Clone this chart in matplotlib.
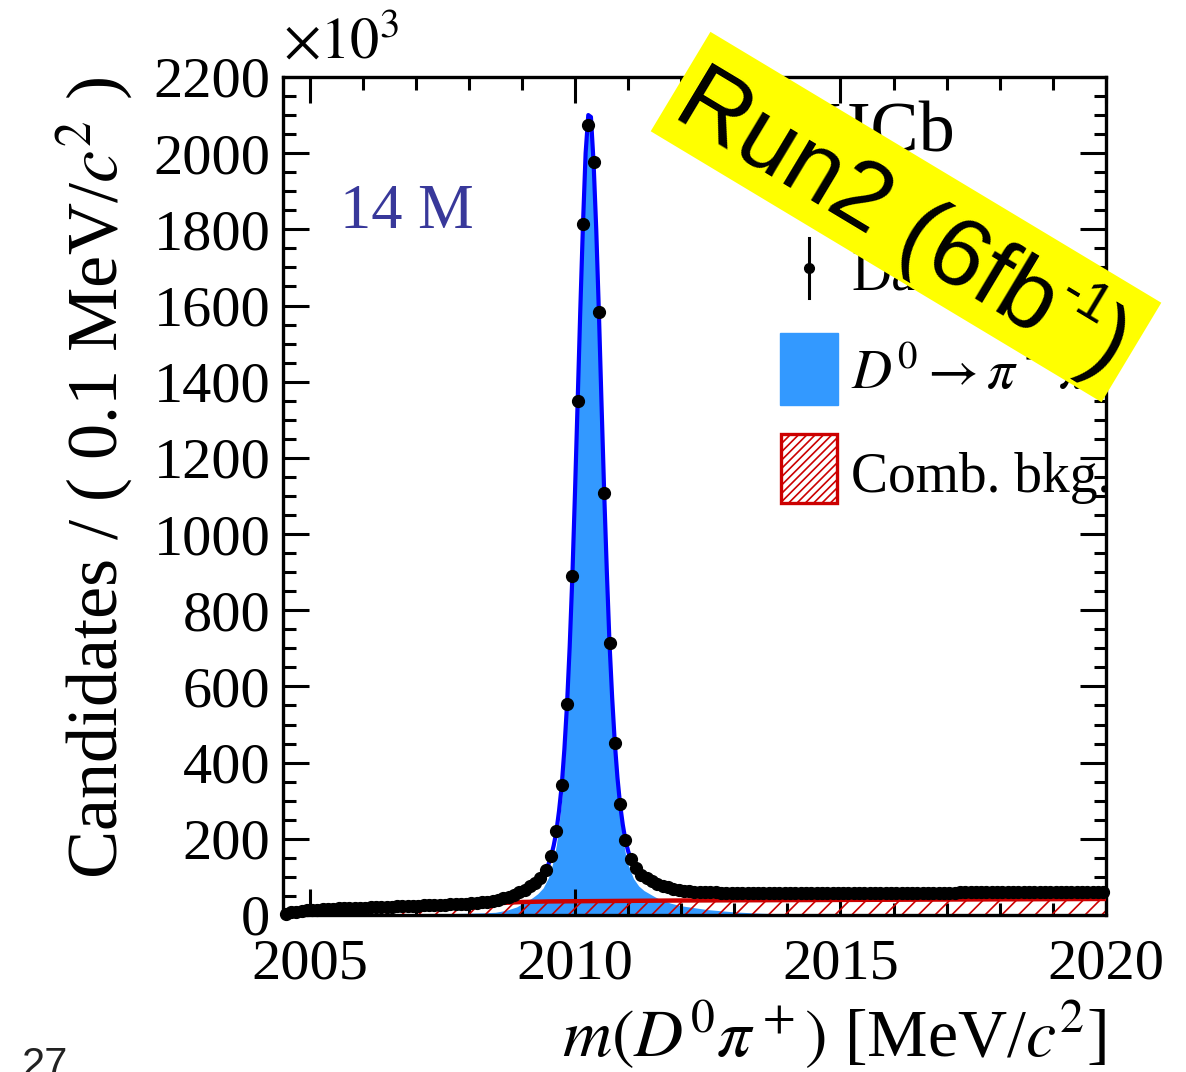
import numpy as np
import matplotlib.pyplot as plt
from matplotlib.patches import Rectangle, Polygon
from matplotlib.lines import Line2D

plt.rcParams['font.family'] = ['Liberation Serif', 'DejaVu Serif']
plt.rcParams['mathtext.fontset'] = 'stix'
plt.rcParams['hatch.linewidth'] = 1.2

# binning: 0.1 MeV bins from threshold region to 2020
bin_lo, bin_hi, bin_w = 2004.5, 2020.0, 0.1

# candidates per bin, in units of 10^3
counts = [
    3, 7, 9, 11, 12, 13, 14, 15, 15.5, 16,
    17, 17.5, 18, 18.5, 19, 19.5, 20, 20.5, 21, 21.5,
    22, 22.5, 23, 23.5, 24, 24.5, 25, 25.5, 26, 26.5,
    27, 27.5, 28, 29, 30, 31, 32, 33.5, 35, 37,
    40, 44, 48, 53, 59, 66, 75, 85, 97, 118,
    155, 221, 341, 554, 890, 1349, 1814, 2074, 1977, 1583,
    1108, 714, 452, 290, 197, 147, 123, 106, 97, 89,
    82, 77, 73, 69, 66, 64, 62.5, 61.5, 60.5, 60,
    59.5, 59, 58.5, 58.5, 58, 58, 58, 57.5, 57.5, 57.5,
    57.5, 57, 57, 57, 57, 57, 57, 57, 57, 57,
    57, 57, 57, 57, 57, 57, 57.5, 57.5, 57.5, 57.5,
    57.5, 57.5, 57.5, 58, 58, 58, 58, 58, 58, 58,
    58, 58.5, 58.5, 58.5, 58.5, 58.5, 58.5, 59, 59, 59,
    59, 59, 59, 59.5, 59.5, 59.5, 59.5, 59.5, 60, 60,
    60, 60, 60, 60, 60.5, 60.5, 60.5, 60.5, 60.5, 61,
    61, 61, 61, 61, 61,
]

# total fit
fit_m = [2004.5, 2004.6, 2004.8, 2005.0, 2005.5, 2006.0, 2006.5, 2007.0, 2007.5,
         2008.0, 2008.25, 2008.5, 2008.7, 2008.9, 2009.0, 2009.1, 2009.2, 2009.3,
         2009.4, 2009.45, 2009.5, 2009.55, 2009.6, 2009.65, 2009.7, 2009.75, 2009.8,
         2009.85, 2009.9, 2009.95, 2010.0, 2010.05, 2010.1, 2010.15, 2010.2, 2010.25,
         2010.3, 2010.35, 2010.4, 2010.45, 2010.5, 2010.55, 2010.6, 2010.65, 2010.7,
         2010.75, 2010.8, 2010.85, 2010.9, 2010.95, 2011.0, 2011.05, 2011.1, 2011.15,
         2011.2, 2011.3, 2011.4, 2011.5, 2011.6, 2011.8, 2012.0, 2012.5, 2013.0,
         2014.0, 2015.0, 2016.0, 2017.0, 2018.0, 2019.0, 2020.0]
fit_total = [0, 5, 10, 12.5, 16.5, 19.5, 22, 24.5, 27,
             30.5, 33.5, 38, 45, 55, 63, 71, 80, 91,
             106, 117, 133, 154, 183, 220, 274, 340, 435,
             553, 705, 888, 1110, 1348, 1590, 1812, 2000, 2100,
             2095, 1975, 1800, 1582, 1340, 1107, 900, 713, 570,
             451, 360, 289, 237, 196, 168, 146, 132, 122,
             113, 101, 93, 85, 79, 71, 65, 60, 58.5,
             57, 57.2, 58, 58.7, 59.5, 60.3, 61]

# D0 -> pi- pi+ signal component
sig_m = [2006.5, 2007.0, 2007.5, 2008.0, 2008.25, 2008.5, 2008.7, 2008.9, 2009.0,
         2009.1, 2009.2, 2009.3, 2009.4, 2009.5, 2009.55, 2009.6, 2009.65, 2009.7,
         2009.75, 2009.8, 2009.85, 2009.9, 2009.95, 2010.0, 2010.05, 2010.1, 2010.15,
         2010.2, 2010.25, 2010.3, 2010.35, 2010.4, 2010.45, 2010.5, 2010.55, 2010.6,
         2010.65, 2010.7, 2010.75, 2010.8, 2010.85, 2010.9, 2010.95, 2011.0, 2011.1,
         2011.2, 2011.3, 2011.4, 2011.5, 2011.6, 2011.8, 2012.0, 2012.5, 2013.0,
         2013.5, 2014.0, 2015.0, 2016.0]
sig_yield = [0, 2, 3, 4.5, 5.5, 7, 12, 21, 29,
             36.5, 45.5, 56, 71, 98, 119, 148, 185, 239,
             305, 400, 518, 670, 853, 1075, 1313, 1555, 1777,
             1965, 2065, 2060, 1940, 1765, 1547, 1305, 1072, 865,
             678, 535, 416, 325, 254, 202, 161, 132, 96,
             76, 64, 56, 48, 41, 31, 24, 14, 8,
             4.5, 2.5, 1, 0]

# combinatorial background
bkg_m = [2004.45, 2004.6, 2004.8, 2005.0, 2005.5, 2006.0, 2006.5, 2007.0, 2007.5,
         2008.0, 2008.5, 2009.0, 2009.5, 2010.0, 2011.0, 2012.0, 2014.0, 2016.0,
         2018.0, 2020.0]
bkg_yield = [0, 3, 6, 8, 11.5, 14.5, 17, 19.5, 22.5,
             26, 30.5, 34, 35.5, 36, 37, 38, 39, 40,
             41, 42]

centers = np.arange(bin_lo + bin_w / 2, bin_hi, bin_w)[:len(counts)]

fig = plt.figure(figsize=(11.86, 10.72), dpi=100)
ax = fig.add_axes([0.2386, 0.1465, 0.6939, 0.7817])

ax.fill_between(sig_m, 0, sig_yield, color='#3399ff', lw=0, zorder=1)
ax.fill_between(bkg_m, 0, bkg_yield, facecolor='none', edgecolor='#cc0000',
                hatch='//', lw=0, zorder=2)
ax.plot(bkg_m, bkg_yield, color='#cc0000', lw=3.2, zorder=3)
ax.plot(fit_m, fit_total, color='#0000ff', lw=3, zorder=4)
ax.plot(centers, counts, 'o', color='black', ms=8.5, zorder=5, clip_on=False)

ax.set_xlim(bin_lo, bin_hi)
ax.set_ylim(0, 2200)
ax.set_xticks([2005, 2010, 2015, 2020])
ax.set_xticks(np.arange(2005, 2021, 1), minor=True)
ax.set_yticks(np.arange(0, 2201, 200))
ax.set_yticks(np.arange(0, 2201, 50), minor=True)
ax.tick_params(which='both', direction='in', top=True, right=True, width=2.2)
ax.tick_params(which='major', length=19, labelsize=42)
ax.tick_params(which='minor', length=9)
ax.tick_params(axis='x', which='major', pad=17)
ax.tick_params(axis='y', which='major', pad=9)
for s in ax.spines.values():
    s.set_linewidth(2.4)

ax.set_ylabel(r'Candidates / ( 0.1 MeV/$c^2$ )', fontsize=52, loc='top')
ax.yaxis.set_label_coords(-0.179, 1.0)
ax.set_xlabel(r'$m(D^0\pi^+)$ [MeV/$c^2$]', fontsize=49, loc='right')
ax.xaxis.set_label_coords(1.0, -0.1)

ax.text(0.0, 1.008, r'$\times10^{3}$', transform=ax.transAxes, fontsize=42,
        ha='left', va='bottom')
ax.text(0.069, 0.820, '14 M', transform=ax.transAxes, fontsize=45,
        color='#38389a', va='baseline')
ax.text(0.817, 0.9105, 'LHCb', transform=ax.transAxes, fontsize=52,
        ha='right', va='baseline')


# legend, placed in pixel positions of the figure
W, H = 1186, 1072


def ax_xy(px, py):
    return (px - 283) / 823, (915 - py) / 838


x0, y0 = ax_xy(809, 298)
x1, y1 = ax_xy(809, 238)
ax.add_line(Line2D([x0, x1], [y0, y1], color='black', lw=2.2,
                   transform=ax.transAxes, zorder=6))
xd, yd = ax_xy(809, 268)
ax.plot([xd], [yd], 'o', color='black', ms=7, transform=ax.transAxes, zorder=6)
bx, by = ax_xy(780, 405)
ax.add_patch(Rectangle((bx, by), 58 / 823, 72 / 838, color='#3399ff',
                       transform=ax.transAxes, zorder=6))
bx, by = ax_xy(781, 503)
ax.add_patch(Rectangle((bx, by), 56 / 823, 69 / 838, facecolor='white',
                       edgecolor='#cc0000', hatch='////', lw=2.4,
                       transform=ax.transAxes, zorder=6))
for txt, py in [('Data', 290), (r'$D^0 \to \pi^-\pi^+$', 389), ('Comb. bkg.', 492)]:
    tx, ty = ax_xy(851, py)
    ax.text(tx, ty, txt, transform=ax.transAxes, fontsize=40, va='baseline',
            zorder=6)

# tilted yellow banner
cx, cy = 906, H - 217
ang_deg = -31
ang = np.deg2rad(ang_deg)
u = np.array([np.cos(ang), np.sin(ang)])
v = np.array([-np.sin(ang), np.cos(ang)])
half_l, half_s = 263, 58
c = np.array([cx, cy])
corners = [c + a * half_l * u + b * half_s * v
           for a, b in [(-1, -1), (1, -1), (1, 1), (-1, 1)]]
corners = [(p[0] / W, p[1] / H) for p in corners]
fig.add_artist(Polygon(corners, closed=True, facecolor='#ffff00',
                       edgecolor='none', transform=fig.transFigure, zorder=10))

# banner text laid out piece by piece along the tilted baseline
big, small = 70, 40
pieces = [('Run2 (6fb', big, 0.0), ('-1', small, 0.42), (')', big, 0.0)]
renderer = fig.canvas.get_renderer()
widths = []
for s, fs, _ in pieces:
    t = fig.text(0, 0, s, fontsize=fs, family='Liberation Sans')
    widths.append(t.get_window_extent(renderer).width)
    t.remove()
em = big * 100 / 72
start = c - sum(widths) / 2 * u - 0.36 * em * v
pos = 0.0
for (s, fs, rise), w in zip(pieces, widths):
    p = start + pos * u + rise * em * v
    fig.text(p[0] / W, p[1] / H, s, fontsize=fs, rotation=ang_deg,
             rotation_mode='anchor', ha='left', va='baseline',
             family='Liberation Sans', zorder=11)
    pos += w

fig.text(22 / W, 1 - 1046 / H, '27', fontsize=30, family='Liberation Sans',
         color='#222222', va='top')

fig.savefig('out.png', dpi=100)
